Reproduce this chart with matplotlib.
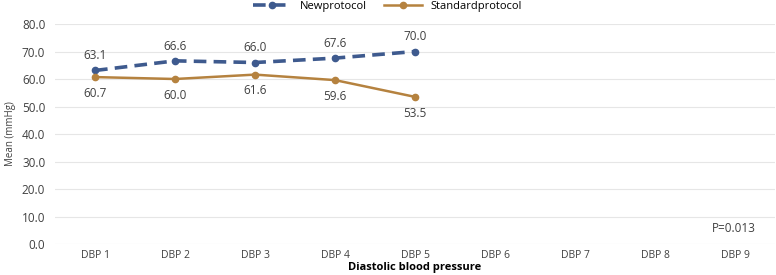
import matplotlib.pyplot as plt

categories = ['DBP 1', 'DBP 2', 'DBP 3', 'DBP 4', 'DBP 5', 'DBP 6', 'DBP 7', 'DBP 8', 'DBP 9']
new_protocol = [63.1, 66.6, 66.0, 67.6, 70.0]
standard_protocol = [60.7, 60.0, 61.6, 59.6, 53.5]
yticks = [0, 10, 20, 30, 40, 50, 60, 70, 80]

blue = '#3E5A8E'
orange = '#B5823F'
plt.rcParams['font.family'] = ['Open Sans', 'DejaVu Sans']

fig = plt.figure(figsize=(7.76, 2.75), dpi=100)
ax = fig.add_axes([0.0709, 0.1127, 0.9278, 0.80])

x_new = list(range(len(new_protocol)))
x_std = list(range(len(standard_protocol)))
ax.plot(x_new, new_protocol, color=blue, lw=2.6, ls=(0, (3.5, 2)),
        marker='o', ms=4.5, label='Newprotocol', zorder=3)
ax.plot(x_std, standard_protocol, color=orange, lw=1.8,
        marker='o', ms=4.5, label='Standardprotocol', zorder=3)

for x, v in zip(x_new, new_protocol):
    ax.annotate(f'{v:.1f}', (x, v), xytext=(0, 6), textcoords='offset points',
                ha='center', va='bottom', fontsize=8.5, color='#404040')
for x, v in zip(x_std, standard_protocol):
    ax.annotate(f'{v:.1f}', (x, v), xytext=(0, -7), textcoords='offset points',
                ha='center', va='top', fontsize=8.5, color='#404040')

ax.set_xlim(-0.5, len(categories) - 0.5)
ax.set_ylim(0, 80)
ax.set_xticks(range(len(categories)))
ax.set_xticklabels(categories, fontsize=7.5, color='#404040')
ax.set_yticks(yticks)
ax.set_yticklabels([f'{t:.1f}' for t in yticks], fontsize=8.5, color='#404040')
ax.tick_params(axis='x', length=0, pad=4)
ax.tick_params(axis='y', length=0, pad=7)
ax.grid(axis='y', color='#E6E6E6', lw=0.8)
ax.set_axisbelow(True)
for s in ax.spines.values():
    s.set_visible(False)

ax.set_xlabel('Diastolic blood pressure', fontsize=8, fontweight='bold', labelpad=1)
ax.set_ylabel('Mean (mmHg)', fontsize=7, color='#404040', labelpad=4)
ax.text(7.98, 5.8, 'P=0.013', fontsize=8.5, color='#404040', ha='center', va='center')

ax.legend(loc='lower center', bbox_to_anchor=(0.462, 1.03), ncol=2, frameon=False,
          fontsize=8, handlelength=3.4, columnspacing=1.5, borderpad=0)

fig.savefig('out.png', dpi=100)
